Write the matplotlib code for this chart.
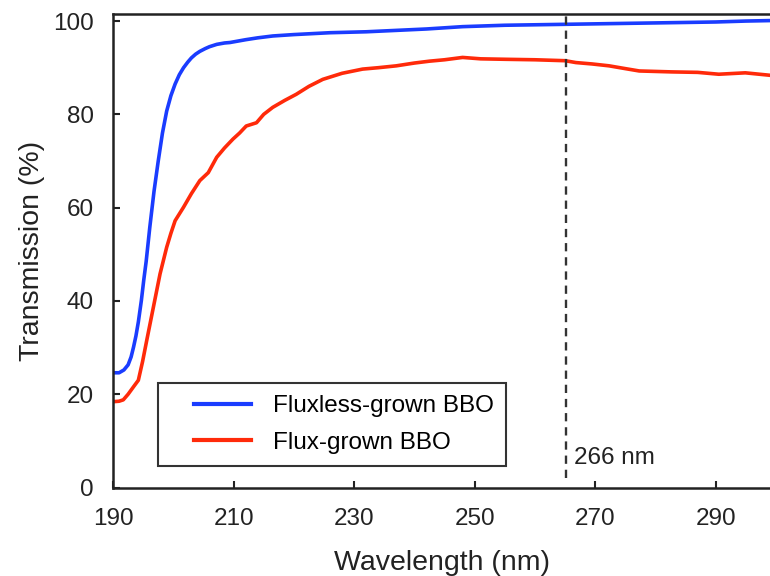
import matplotlib.pyplot as plt
from matplotlib.legend_handler import HandlerLine2D

plt.rcParams['font.family'] = ['Liberation Sans', 'DejaVu Sans']

# Fluxless-grown BBO (blue)
wl_fluxless = [190, 191, 191.8, 192.5, 193, 193.4, 193.8, 194.2, 194.7, 195.1,
               195.5, 196.1, 196.8, 197.5, 198.2, 198.9, 199.6, 200.3, 201,
               201.7, 202.4, 203, 203.7, 204.4, 205.3, 206, 207.2, 208.5,
               209.4, 212, 214, 216.5, 220, 226, 232, 237, 242, 248,
               255, 265, 275, 285, 290, 295, 299]
t_fluxless = [24.6, 24.6, 25.2, 26.3, 28.0, 30.1, 32.5, 35.5, 40.1, 44.5,
              48.5, 55.8, 63.5, 70, 76, 80.7, 84, 86.5, 88.5,
              90, 91.2, 92.1, 92.9, 93.5, 94.1, 94.5, 95, 95.3,
              95.4, 96.0, 96.4, 96.8, 97.1, 97.5, 97.7, 98.0, 98.3, 98.8,
              99.1, 99.3, 99.5, 99.7, 99.8, 100, 100.1]

# Flux-grown BBO (red)
wl_flux = [190, 191, 191.7, 192.5, 193.4, 194.2, 194.9, 195.6, 196.7, 197.8,
           198.9, 199.6, 200.3, 201.7, 203, 204.4, 205.8, 207.2, 208.5, 209.9,
           211, 212.1, 213.8, 215, 216.5, 218.5, 220.4, 222.5, 224.8, 228,
           231.4, 234, 237, 240, 242.5, 245, 248, 251, 255.2, 260, 265, 266.8,
           269.5, 272.3, 275, 277.3, 282.7, 287, 290.5, 294.9, 298.8]
t_flux = [18.4, 18.5, 18.8, 20, 21.6, 23, 27, 31.6, 38.7, 45.8,
          51.5, 54.5, 57.2, 60.1, 63, 65.8, 67.5, 70.8, 72.8, 74.7,
          76, 77.5, 78.2, 80, 81.5, 83, 84.3, 86, 87.5, 88.8,
          89.7, 90, 90.4, 91, 91.4, 91.7, 92.2, 91.9, 91.8, 91.7, 91.5, 91.1,
          90.8, 90.4, 89.8, 89.3, 89.1, 89.0, 88.6, 88.9, 88.4]

marker_wl = 265.2

fig = plt.figure(figsize=(7.7, 5.76), dpi=100)
ax = fig.add_axes([0.1468, 0.1536, 0.8532, 0.8220])

ax.plot(wl_fluxless, t_fluxless, color='#1a3cff', lw=2.6, label='Fluxless-grown BBO')
ax.plot(wl_flux, t_flux, color='#ff2a0a', lw=2.6, label='Flux-grown BBO')
ax.vlines(marker_wl, 2, 101.5, colors='#333333', lw=1.7, linestyles=(0, (3.5, 2.5)))
ax.text(marker_wl + 1.3, 6.3, '266 nm', fontsize=17.5, va='center', ha='left', color='#222222')

ax.set_xlim(190, 299)
ax.set_ylim(0, 101.5)
ax.set_xticks([190, 210, 230, 250, 270, 290])
ax.set_yticks([0, 20, 40, 60, 80, 100])
ax.tick_params(direction='in', length=5, width=1.5, labelsize=17.5,
               colors='#222222', labelcolor='#222222')
ax.tick_params(axis='x', pad=15)
ax.tick_params(axis='y', pad=14)
for side in ['left', 'bottom', 'top']:
    ax.spines[side].set_linewidth(1.8)
    ax.spines[side].set_color('#222222')
ax.spines['right'].set_visible(False)

ax.set_xlabel('Wavelength (nm)', fontsize=20.5, color='#222222', labelpad=14)
ax.set_ylabel('Transmission (%)', fontsize=20.5, color='#222222', labelpad=6)

leg = ax.legend(loc='lower left', bbox_to_anchor=(0.0685, 0.0454), borderaxespad=0,
                fontsize=17.5, handlelength=3.33, handletextpad=0.9, borderpad=0.5,
                labelspacing=0.6, fancybox=False, framealpha=1, edgecolor='#333333',
                handler_map={plt.Line2D: HandlerLine2D(xpad=0.96)})
leg.get_frame().set_linewidth(1.5)
for h in leg.legend_handles:
    h.set_linewidth(3)

fig.savefig('out.png', dpi=100)
